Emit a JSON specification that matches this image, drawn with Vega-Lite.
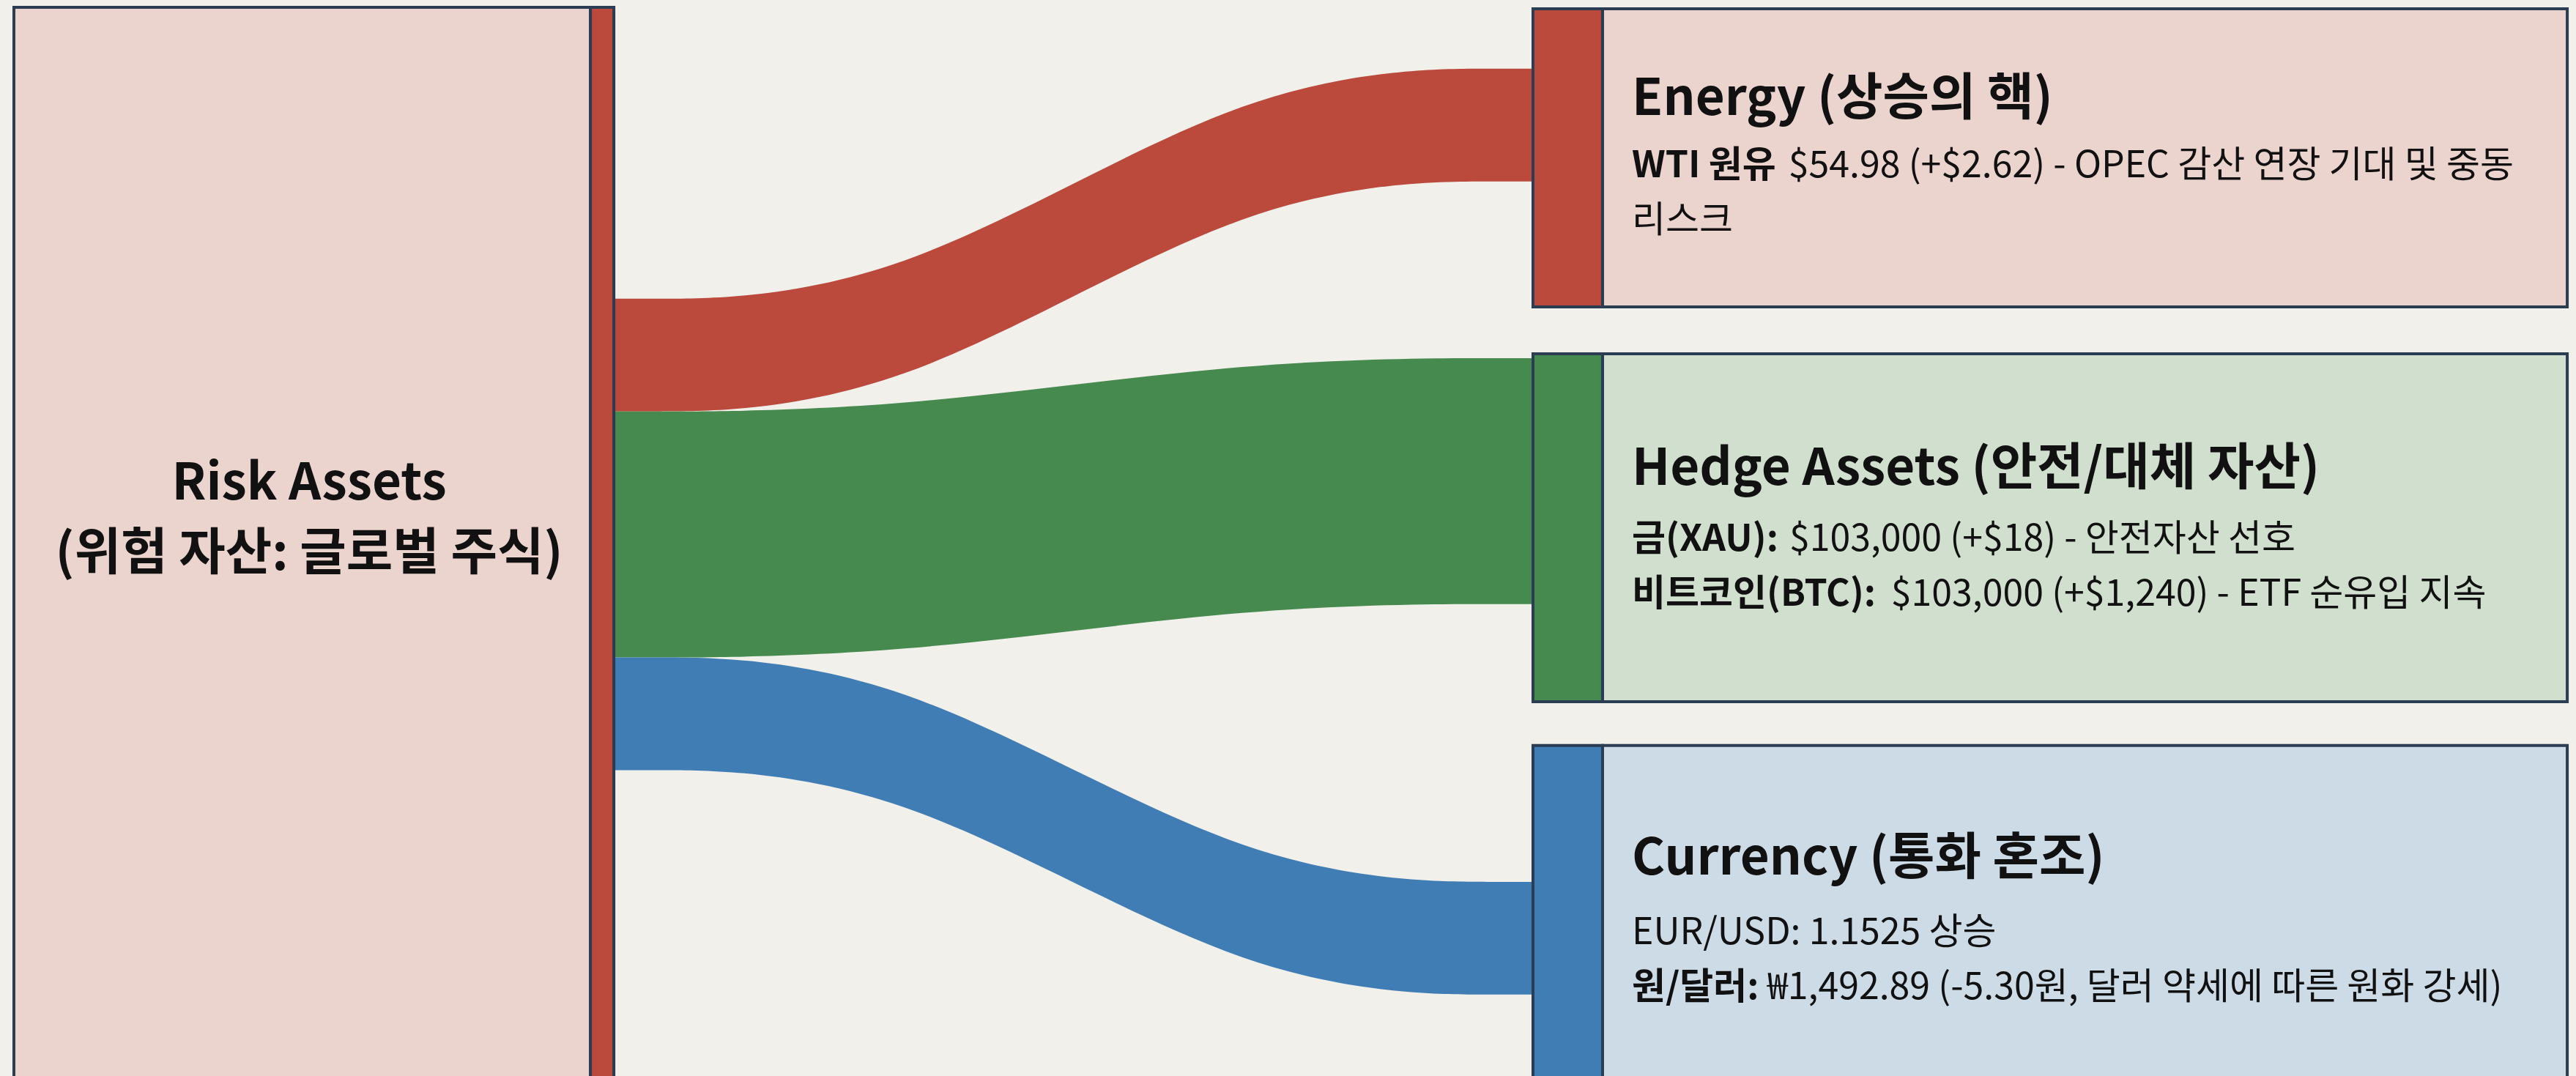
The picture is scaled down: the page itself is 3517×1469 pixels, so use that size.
{
  "$schema": "https://vega.github.io/schema/vega-lite/v6.json",
  "width": 3517,
  "height": 1469,
  "autosize": {"type": "fit", "contains": "padding"},
  "padding": 0,
  "background": "#f1f0eb",
  "config": {"view": {"stroke": null}, "font": "Noto Sans CJK KR"},
  "datasets": {
    "nodes": [
      {"node": "Risk Assets", "part": "panel", "from": 0.54, "to": 22.92, "lo": 1.43, "hi": 212},
      {"node": "Risk Assets", "part": "bar", "from": 22.92, "to": 23.83, "lo": 1.43, "hi": 212},
      {"node": "Energy", "part": "bar", "from": 59.51, "to": 62.21, "lo": 1.72, "hi": 59.9},
      {"node": "Energy", "part": "panel", "from": 62.21, "to": 99.66, "lo": 1.72, "hi": 59.9},
      {"node": "Hedge Assets", "part": "bar", "from": 59.51, "to": 62.21, "lo": 69.05, "hi": 136.95},
      {"node": "Hedge Assets", "part": "panel", "from": 62.21, "to": 99.66, "lo": 69.05, "hi": 136.95},
      {"node": "Currency", "part": "bar", "from": 59.51, "to": 62.21, "lo": 145.5, "hi": 212},
      {"node": "Currency", "part": "panel", "from": 62.21, "to": 99.66, "lo": 145.5, "hi": 212}
    ],
    "flows": [
      {"target": "Energy", "pos": 23.83, "top": 58.3, "bottom": 80.3},
      {"target": "Energy", "pos": 34.53, "top": 58.3, "bottom": 80.3},
      {"target": "Energy", "pos": 48.81, "top": 13.4, "bottom": 35.4},
      {"target": "Energy", "pos": 59.51, "top": 13.4, "bottom": 35.4},
      {"target": "Hedge Assets", "pos": 23.83, "top": 80.3, "bottom": 128.3},
      {"target": "Hedge Assets", "pos": 34.53, "top": 80.3, "bottom": 128.3},
      {"target": "Hedge Assets", "pos": 48.81, "top": 69.9, "bottom": 117.9},
      {"target": "Hedge Assets", "pos": 59.51, "top": 69.9, "bottom": 117.9},
      {"target": "Currency", "pos": 23.83, "top": 128.3, "bottom": 150.3},
      {"target": "Currency", "pos": 34.53, "top": 128.3, "bottom": 150.3},
      {"target": "Currency", "pos": 48.81, "top": 172.1, "bottom": 194.1},
      {"target": "Currency", "pos": 59.51, "top": 172.1, "bottom": 194.1}
    ],
    "labels": [
      {"role": "node", "text": "Risk Assets", "at": 12.0, "line": 97.5},
      {"role": "node", "text": "(위험 자산: 글로벌 주식)", "at": 12.0, "line": 111.2},
      {"role": "title", "text": "Energy (상승의 핵)", "at": 63.35, "line": 22.44},
      {"role": "key", "text": "WTI 원유", "at": 63.35, "line": 34.6},
      {"role": "detail", "text": "$54.98 (+$2.62) - OPEC 감산 연장 기대 및 중동", "at": 69.43, "line": 34.6},
      {"role": "detail", "text": "리스크", "at": 63.35, "line": 45.32},
      {"role": "title", "text": "Hedge Assets (안전/대체 자산)", "at": 63.35, "line": 94.64},
      {"role": "key", "text": "금(XAU):", "at": 63.35, "line": 107.5},
      {"role": "detail", "text": "$103,000 (+$18) - 안전자산 선호", "at": 69.46, "line": 107.5},
      {"role": "key", "text": "비트코인(BTC):", "at": 63.35, "line": 118.23},
      {"role": "detail", "text": "$103,000 (+$1,240) - ETF 순유입 지속", "at": 73.41, "line": 118.23},
      {"role": "title", "text": "Currency (통화 혼조)", "at": 63.35, "line": 170.7},
      {"role": "detail", "text": "EUR/USD: 1.1525 상승", "at": 63.35, "line": 184.3},
      {"role": "key", "text": "원/달러:", "at": 63.35, "line": 195.0},
      {"role": "detail", "text": "₩1,492.89 (-5.30원, 달러 약세에 따른 원화 강세)", "at": 68.61, "line": 195.0}
    ]
  },
  "resolve": {"scale": {"color": "independent"}},
  "layer": [
    {
      "data": {"name": "flows"},
      "mark": {"type": "area", "interpolate": "basis", "clip": true, "opacity": 1},
      "encoding": {
        "x": {"field": "pos", "type": "quantitative", "scale": {"domain": [0, 100], "nice": false, "zero": false}, "axis": null},
        "y": {"field": "top", "type": "quantitative", "scale": {"domain": [0, 210], "nice": false, "zero": false, "reverse": true}, "axis": null},
        "y2": {"field": "bottom"},
        "color": {"field": "target", "type": "nominal", "legend": null,
          "scale": {"domain": ["Energy", "Hedge Assets", "Currency"], "range": ["#bb4a3c", "#468a4f", "#407db5"]}}
      }
    },
    {
      "data": {"name": "nodes"},
      "transform": [{"filter": "datum.part === 'panel'"}],
      "mark": {"type": "rect", "clip": true, "stroke": "#2a3d52", "strokeWidth": 4, "opacity": 1},
      "encoding": {
        "x": {"field": "from", "type": "quantitative"},
        "x2": {"field": "to"},
        "y": {"field": "lo", "type": "quantitative"},
        "y2": {"field": "hi"},
        "color": {"field": "node", "type": "nominal", "legend": null,
          "scale": {"domain": ["Risk Assets", "Energy", "Hedge Assets", "Currency"], "range": ["#ebd3ce", "#ebd3ce", "#d1e0ce", "#ccdbe6"]}}
      }
    },
    {
      "data": {"name": "nodes"},
      "transform": [{"filter": "datum.part === 'bar'"}],
      "mark": {"type": "rect", "clip": true, "stroke": "#2a3d52", "strokeWidth": 4, "opacity": 1},
      "encoding": {
        "x": {"field": "from", "type": "quantitative"},
        "x2": {"field": "to"},
        "y": {"field": "lo", "type": "quantitative"},
        "y2": {"field": "hi"},
        "color": {"field": "node", "type": "nominal", "legend": null,
          "scale": {"domain": ["Risk Assets", "Energy", "Hedge Assets", "Currency"], "range": ["#bb4a3c", "#bb4a3c", "#468a4f", "#407db5"]}}
      }
    },
    {
      "data": {"name": "labels"},
      "transform": [{"filter": "datum.role === 'node'"}],
      "mark": {"type": "text", "align": "center", "baseline": "alphabetic", "fontSize": 69, "fontWeight": "bold", "color": "#111111"},
      "encoding": {
        "x": {"field": "at", "type": "quantitative"},
        "y": {"field": "line", "type": "quantitative"},
        "text": {"field": "text"}
      }
    },
    {
      "data": {"name": "labels"},
      "transform": [{"filter": "datum.role === 'title'"}],
      "mark": {"type": "text", "align": "left", "baseline": "alphabetic", "fontSize": 69, "fontWeight": "bold", "color": "#111111"},
      "encoding": {
        "x": {"field": "at", "type": "quantitative"},
        "y": {"field": "line", "type": "quantitative"},
        "text": {"field": "text"}
      }
    },
    {
      "data": {"name": "labels"},
      "transform": [{"filter": "datum.role === 'key'"}],
      "mark": {"type": "text", "align": "left", "baseline": "alphabetic", "fontSize": 50, "fontWeight": "bold", "color": "#111111"},
      "encoding": {
        "x": {"field": "at", "type": "quantitative"},
        "y": {"field": "line", "type": "quantitative"},
        "text": {"field": "text"}
      }
    },
    {
      "data": {"name": "labels"},
      "transform": [{"filter": "datum.role === 'detail'"}],
      "mark": {"type": "text", "align": "left", "baseline": "alphabetic", "fontSize": 50, "fontWeight": "normal", "color": "#111111"},
      "encoding": {
        "x": {"field": "at", "type": "quantitative"},
        "y": {"field": "line", "type": "quantitative"},
        "text": {"field": "text"}
      }
    }
  ]
}
